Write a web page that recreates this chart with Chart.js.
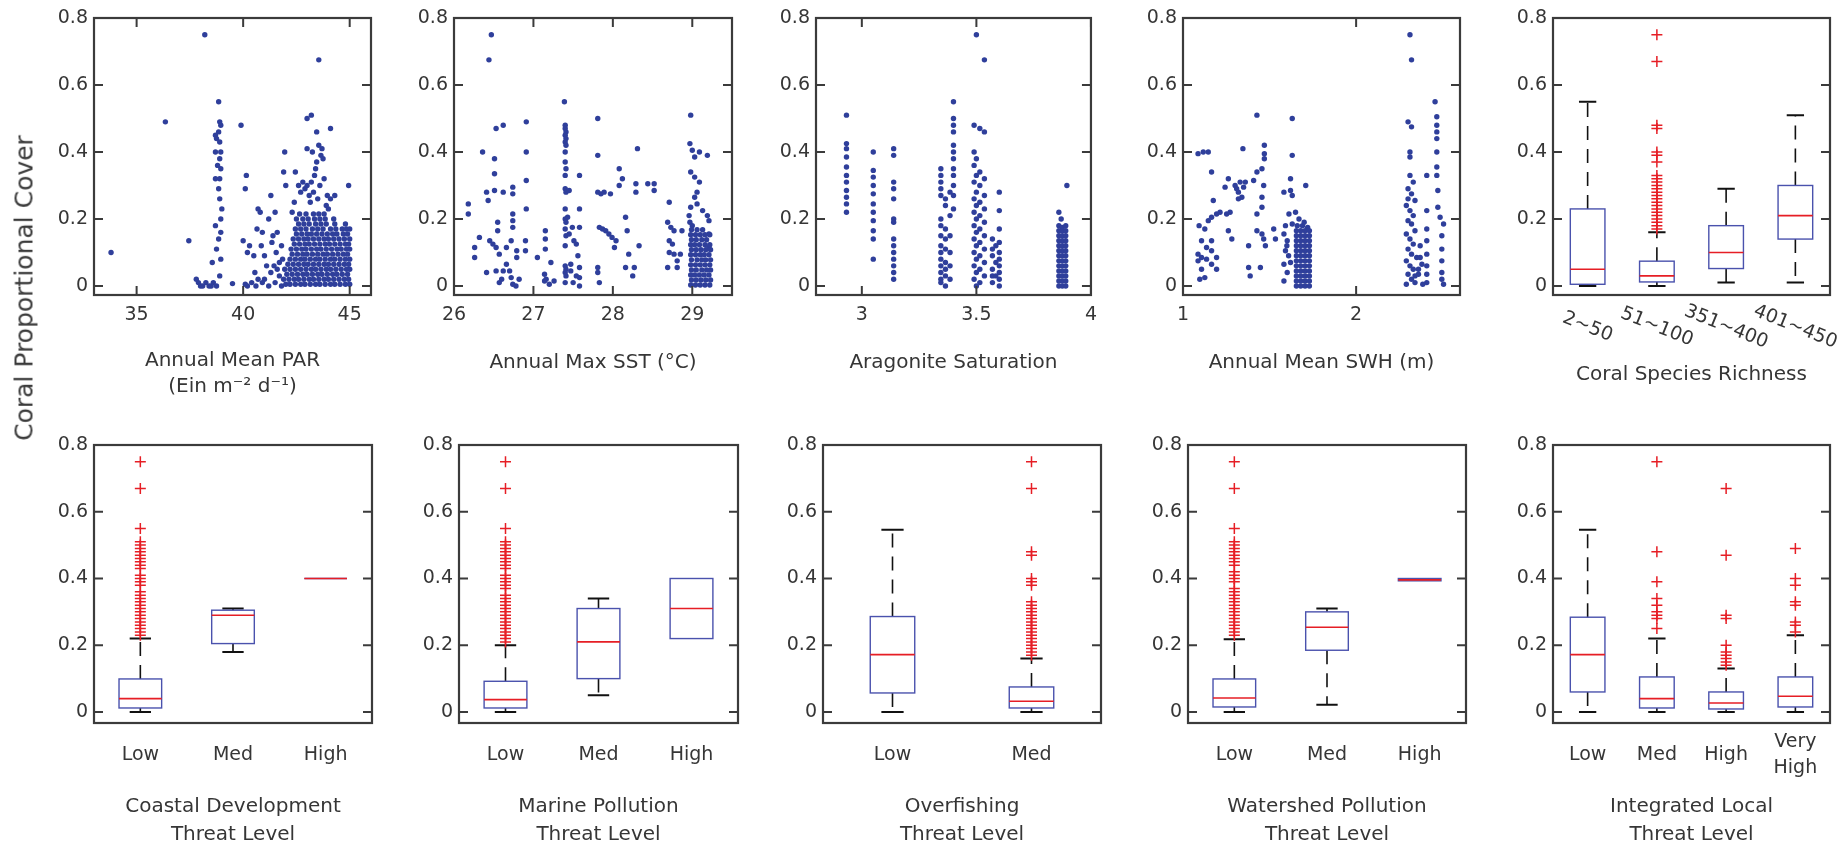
<!DOCTYPE html>
<html>
<head>
<meta charset="utf-8">
<title>Coral proportional cover</title>
<script src="https://cdn.jsdelivr.net/npm/chart.js@4.4.1/dist/chart.umd.min.js"></script>
<style>
  html, body { margin: 0; padding: 0; background: #fff; }
  body { width: 1845px; height: 850px; position: relative; overflow: hidden; font-family: 'DejaVu Sans', sans-serif; }
  .panel { position: absolute; }
  #yTitle { position: absolute; left: 24px; top: 288px; transform: translate(-50%, -50%) rotate(-90deg);
            white-space: nowrap; font-size: 25px; color: #3a3a3a; }
</style>
</head>
<body>
<script>
// ---- data ----
const yTicks = [0, 0.2, 0.4, 0.6, 0.8];

const parTicks = [35, 40, 45];
const parPoints = [
  [33.8,0.10],[36.35,0.49],[37.45,0.135],[38.2,0.75],[43.55,0.675],[39.9,0.48],[38.85,0.55],[44.95,0.30],[43.0,0.50],[43.2,0.51],[44.1,0.47],
  [38.9,0.49],[38.95,0.48],[38.85,0.46],[38.7,0.45],[38.75,0.44],[38.9,0.43],[38.7,0.40],[38.95,0.40],[38.9,0.38],[38.8,0.36],[38.95,0.35],[38.7,0.32],
  [38.9,0.32],[38.85,0.29],[38.9,0.26],[39.0,0.23],[38.95,0.20],[38.7,0.18],[38.95,0.16],[38.85,0.14],[38.75,0.11],[38.95,0.08],[38.55,0.07],[38.9,0.03],
  [37.8,0.02],[37.9,0.01],[38.0,0.0],[38.1,0.0],[38.25,0.01],[38.4,0.0],[38.5,0.0],[38.6,0.01],[38.75,0.0],[39.5,0.007],
  [40.0,0.135],[40.15,0.33],[40.1,0.29],[40.3,0.12],[40.2,0.10],[40.5,0.09],[40.55,0.04],[40.7,0.23],[40.65,0.17],[40.8,0.22],[40.9,0.16],[40.85,0.12],
  [41.0,0.09],[41.1,0.06],[41.2,0.20],[41.3,0.27],[41.35,0.13],[41.5,0.22],[41.4,0.15],[41.6,0.16],[41.55,0.10],[41.7,0.07],[41.9,0.34],[41.95,0.40],
  [42.0,0.30],[41.8,0.12],[41.6,0.05],[41.3,0.04],[41.0,0.02],[40.7,0.02],[40.4,0.01],[40.1,0.005],[40.2,0.0],[40.6,0.0],[40.9,0.01],[41.2,0.0],
  [41.5,0.01],[41.8,0.0],[41.7,0.03],[41.45,0.06],[41.85,0.08],
  [42.45,0.34],[42.6,0.30],[42.8,0.31],[42.9,0.29],[43.0,0.30],[43.1,0.27],[43.2,0.31],[43.3,0.28],[43.15,0.25],[42.7,0.28],[43.35,0.33],[43.4,0.35],
  [43.25,0.40],[43.55,0.42],[43.65,0.39],[43.75,0.38],[43.8,0.32],[43.95,0.27],[44.1,0.26],[43.9,0.24],[43.6,0.30],[43.5,0.26],[43.0,0.41],[43.7,0.41],
  [43.45,0.37],[44.3,0.27],[44.0,0.23],[43.45,0.46],[42.4,0.25],[42.3,0.22],
  [42.0,0.005],[42.2,0.005],[42.45,0.005],[42.7,0.005],[42.9,0.005],[43.15,0.005],[43.4,0.005],[43.6,0.005],[43.85,0.005],[44.1,0.005],[44.3,0.005],[44.55,0.005],[44.8,0.005],[45.0,0.005],
  [41.9,0.02],[42.15,0.02],[42.4,0.02],[42.6,0.02],[42.85,0.02],[43.1,0.02],[43.3,0.02],[43.55,0.02],[43.8,0.02],[44.0,0.02],[44.25,0.02],[44.5,0.02],[44.75,0.02],[44.95,0.02],
  [42.05,0.035],[42.3,0.035],[42.55,0.035],[42.8,0.035],[43.0,0.035],[43.25,0.035],[43.5,0.035],[43.7,0.035],[43.95,0.035],[44.2,0.035],[44.4,0.035],[44.65,0.035],[44.9,0.035],
  [41.95,0.05],[42.2,0.05],[42.45,0.05],[42.7,0.05],[42.95,0.05],[43.2,0.05],[43.4,0.05],[43.65,0.05],[43.9,0.05],[44.1,0.05],[44.35,0.05],[44.6,0.05],[44.85,0.05],[45.0,0.05],
  [42.1,0.065],[42.35,0.065],[42.6,0.065],[42.85,0.065],[43.05,0.065],[43.3,0.065],[43.55,0.065],[43.8,0.065],[44.0,0.065],[44.25,0.065],[44.5,0.065],[44.75,0.065],[44.95,0.065],
  [42.2,0.08],[42.45,0.08],[42.7,0.08],[42.9,0.08],[43.15,0.08],[43.4,0.08],[43.6,0.08],[43.85,0.08],[44.1,0.08],[44.3,0.08],[44.55,0.08],[44.8,0.08],[45.0,0.08],
  [42.3,0.095],[42.55,0.095],[42.8,0.095],[43.0,0.095],[43.25,0.095],[43.5,0.095],[43.75,0.095],[43.95,0.095],[44.2,0.095],[44.45,0.095],[44.7,0.095],[44.9,0.095],
  [42.25,0.11],[42.5,0.11],[42.75,0.11],[42.95,0.11],[43.2,0.11],[43.45,0.11],[43.65,0.11],[43.9,0.11],[44.15,0.11],[44.4,0.11],[44.6,0.11],[44.85,0.11],[45.0,0.11],
  [42.4,0.125],[42.65,0.125],[42.9,0.125],[43.1,0.125],[43.35,0.125],[43.6,0.125],[43.85,0.125],[44.05,0.125],[44.3,0.125],[44.55,0.125],[44.8,0.125],[44.95,0.125],
  [42.35,0.14],[42.6,0.14],[42.85,0.14],[43.05,0.14],[43.3,0.14],[43.55,0.14],[43.8,0.14],[44.0,0.14],[44.25,0.14],[44.5,0.14],[44.75,0.14],[45.0,0.14],
  [42.5,0.155],[42.75,0.155],[43.0,0.155],[43.2,0.155],[43.45,0.155],[43.7,0.155],[43.95,0.155],[44.2,0.155],[44.4,0.155],[44.7,0.155],[44.9,0.155],
  [42.45,0.17],[42.7,0.17],[42.95,0.17],[43.25,0.17],[43.5,0.17],[43.75,0.17],[44.1,0.17],[44.35,0.17],[44.65,0.17],[44.85,0.17],[45.0,0.17],
  [42.6,0.185],[42.85,0.185],[43.1,0.185],[43.4,0.185],[43.65,0.185],[43.9,0.185],[44.3,0.185],[44.8,0.185],
  [42.5,0.20],[42.8,0.20],[43.05,0.20],[43.35,0.20],[43.6,0.20],[43.85,0.20],[44.25,0.20],
  [42.65,0.215],[42.95,0.215],[43.3,0.215],[43.55,0.215],[43.8,0.215]
];

const sstTicks = [26, 27, 28, 29];
const sstPoints = [
  [26.47,0.75],[26.44,0.675],[27.39,0.55],[27.81,0.50],[28.98,0.51],
  [26.36,0.40],[26.41,0.28],[26.51,0.285],[26.62,0.28],[26.53,0.47],[26.62,0.48],[26.51,0.38],[26.51,0.335],[26.91,0.49],[26.91,0.40],[26.91,0.315],
  [26.91,0.23],[26.74,0.295],[26.74,0.275],[26.18,0.245],[26.18,0.215],[26.32,0.145],[26.26,0.115],[26.26,0.085],[26.43,0.255],[26.55,0.19],[26.55,0.165],
  [26.45,0.135],[26.49,0.125],[26.53,0.115],[26.57,0.095],[26.66,0.115],[26.74,0.215],[26.74,0.195],[26.74,0.175],[26.72,0.135],[26.79,0.105],[26.79,0.085],
  [26.41,0.04],[26.53,0.045],[26.62,0.045],[26.7,0.045],[26.57,0.01],[26.74,0.005],[26.82,0.02],[26.9,0.135],[26.9,0.105],[26.66,0.065],[26.72,0.025],
  [26.6,0.02],[26.78,0.0],
  [27.05,0.085],[27.15,0.165],[27.15,0.14],[27.15,0.11],[27.22,0.07],[27.14,0.035],[27.14,0.015],[27.2,0.005],[27.26,0.015],[27.16,0.02],
  [27.4,0.48],[27.4,0.47],[27.41,0.46],[27.4,0.45],[27.41,0.44],[27.4,0.43],[27.41,0.42],[27.4,0.40],[27.4,0.37],[27.41,0.35],[27.4,0.33],[27.4,0.29],
  [27.41,0.28],[27.4,0.23],[27.4,0.20],[27.41,0.19],[27.4,0.17],[27.41,0.15],[27.4,0.12],[27.4,0.06],[27.41,0.05],[27.4,0.04],[27.41,0.03],[27.4,0.01],
  [27.45,0.285],[27.43,0.205],[27.49,0.175],[27.45,0.155],[27.51,0.135],[27.47,0.065],[27.47,0.045],[27.54,0.03],[27.58,0.33],[27.58,0.23],[27.58,0.175],
  [27.56,0.09],[27.58,0.055],[27.58,0.025],[27.58,0.0],[27.54,0.125],[27.5,0.01],
  [27.81,0.39],[27.81,0.28],[27.85,0.275],[27.89,0.28],[27.97,0.275],[27.83,0.175],[27.87,0.17],[27.91,0.165],[27.95,0.155],[27.99,0.145],[28.04,0.135],
  [28.02,0.115],[27.81,0.055],[27.81,0.04],[27.83,0.01],[28.08,0.35],[28.12,0.32],[28.08,0.30],[28.16,0.205],[28.18,0.165],[28.16,0.055],[28.25,0.03],[28.27,0.055],
  [28.31,0.41],[28.29,0.305],[28.29,0.28],[28.33,0.12],[28.44,0.305],[28.52,0.305],[28.52,0.285],[28.2,0.095],
  [28.71,0.25],[28.69,0.19],[28.73,0.175],[28.77,0.165],[28.71,0.135],[28.75,0.125],[28.71,0.10],[28.77,0.095],[28.81,0.075],[28.85,0.095],[28.69,0.055],
  [28.81,0.055],[28.87,0.165],
  [28.97,0.425],[29.0,0.405],[29.03,0.385],[29.09,0.40],[29.19,0.39],[28.98,0.34],[29.03,0.325],[29.09,0.31],[29.06,0.28],[29.03,0.265],[28.98,0.235],
  [29.06,0.245],[29.13,0.225],[29.19,0.21],[29.21,0.195],[28.96,0.21],[29.21,0.155],[29.21,0.115],[28.97,0.19],[29.0,0.18],
  [28.98,0.003],[29.04,0.003],[29.1,0.003],[29.16,0.003],[29.22,0.003],
  [28.99,0.018],[29.05,0.018],[29.11,0.018],[29.17,0.018],[29.23,0.018],
  [28.98,0.033],[29.03,0.033],[29.09,0.033],[29.15,0.033],[29.21,0.033],
  [28.99,0.048],[29.05,0.048],[29.12,0.048],[29.18,0.048],[29.23,0.048],
  [28.98,0.063],[29.04,0.063],[29.1,0.063],[29.16,0.063],[29.22,0.063],
  [28.99,0.078],[29.06,0.078],[29.12,0.078],[29.17,0.078],[29.23,0.078],
  [28.98,0.093],[29.04,0.093],[29.1,0.093],[29.15,0.093],[29.21,0.093],
  [28.99,0.108],[29.05,0.108],[29.11,0.108],[29.17,0.108],[29.23,0.108],
  [28.98,0.123],[29.03,0.123],[29.09,0.123],[29.16,0.123],[29.22,0.123],
  [28.99,0.138],[29.05,0.138],[29.12,0.138],[29.18,0.138],
  [28.98,0.153],[29.04,0.153],[29.1,0.153],[29.16,0.153],[29.22,0.153],
  [28.99,0.168],[29.06,0.168],[29.13,0.168]
];

const aragTicks = [3, 3.5, 4];
const aragPoints = [
  [2.933,0.51],[2.933,0.425],[2.933,0.41],[2.933,0.385],[2.933,0.355],[2.933,0.33],[2.933,0.31],[2.933,0.285],[2.933,0.265],[2.933,0.245],[2.933,0.22],
  [3.05,0.40],[3.05,0.345],[3.05,0.325],[3.05,0.30],[3.05,0.275],[3.05,0.245],[3.05,0.22],[3.05,0.195],[3.05,0.165],[3.05,0.14],[3.05,0.08],
  [3.139,0.41],[3.139,0.39],[3.139,0.31],[3.139,0.29],[3.139,0.26],[3.139,0.20],[3.139,0.19],[3.139,0.14],[3.139,0.12],[3.139,0.10],[3.139,0.08],
  [3.139,0.06],[3.139,0.04],[3.139,0.02],
  [3.345,0.35],[3.345,0.33],[3.345,0.31],[3.345,0.29],[3.345,0.27],[3.345,0.20],[3.345,0.18],[3.345,0.15],[3.345,0.12],[3.345,0.10],[3.345,0.08],
  [3.345,0.06],[3.345,0.04],[3.345,0.02],[3.345,0.01],
  [3.365,0.26],[3.365,0.24],[3.365,0.17],[3.365,0.14],[3.365,0.11],[3.365,0.07],[3.365,0.05],[3.365,0.03],[3.365,0.0],
  [3.385,0.28],[3.385,0.21],[3.385,0.15],[3.385,0.10],[3.385,0.06],[3.385,0.02],
  [3.40,0.55],[3.40,0.50],[3.40,0.48],[3.40,0.46],[3.40,0.42],[3.40,0.40],[3.40,0.38],[3.40,0.35],[3.40,0.33],[3.40,0.30],[3.40,0.27],[3.40,0.23],
  [3.49,0.48],[3.49,0.40],[3.49,0.36],[3.49,0.31],[3.49,0.26],[3.49,0.22],[3.49,0.18],[3.49,0.14],[3.49,0.10],[3.49,0.06],[3.49,0.02],
  [3.50,0.75],[3.50,0.38],[3.50,0.33],[3.50,0.28],[3.50,0.24],[3.50,0.20],[3.50,0.16],[3.50,0.12],[3.50,0.08],[3.50,0.04],[3.50,0.0],
  [3.515,0.47],[3.515,0.34],[3.515,0.30],[3.515,0.25],[3.515,0.21],[3.515,0.17],[3.515,0.13],[3.515,0.09],[3.515,0.05],[3.515,0.01],
  [3.535,0.675],[3.535,0.46],[3.535,0.32],[3.535,0.27],[3.535,0.23],[3.535,0.19],[3.535,0.15],[3.535,0.11],[3.535,0.07],[3.535,0.03],
  [3.57,0.14],[3.57,0.11],[3.57,0.09],[3.57,0.05],[3.57,0.03],[3.57,0.01],
  [3.6,0.28],[3.6,0.225],[3.6,0.17],[3.6,0.13],[3.6,0.10],[3.6,0.08],[3.6,0.06],[3.6,0.04],[3.6,0.02],[3.6,0.0],
  [3.585,0.12],[3.585,0.07],[3.585,0.03],
  [3.895,0.30],[3.87,0.20],[3.86,0.22],
  [3.86,0.0],[3.875,0.0],[3.89,0.0],[3.86,0.015],[3.875,0.015],[3.89,0.015],[3.86,0.03],[3.875,0.03],[3.89,0.03],
  [3.86,0.045],[3.875,0.045],[3.89,0.045],[3.86,0.06],[3.875,0.06],[3.89,0.06],[3.86,0.075],[3.875,0.075],[3.89,0.075],
  [3.86,0.09],[3.875,0.09],[3.89,0.09],[3.86,0.105],[3.875,0.105],[3.89,0.105],[3.86,0.12],[3.875,0.12],[3.89,0.12],
  [3.86,0.135],[3.875,0.135],[3.89,0.135],[3.86,0.15],[3.875,0.15],[3.89,0.15],[3.86,0.165],[3.875,0.165],[3.89,0.165],
  [3.86,0.18],[3.875,0.175],[3.89,0.18]
];

const swhTicks = [1, 2];
const swhPoints = [
  [1.087,0.395],[1.117,0.40],[1.146,0.40],[1.165,0.34],[1.175,0.255],[1.093,0.18],[1.126,0.17],[1.146,0.195],[1.165,0.205],[1.194,0.215],[1.214,0.22],
  [1.107,0.135],[1.136,0.115],[1.165,0.135],[1.087,0.095],[1.107,0.085],[1.087,0.075],[1.136,0.08],[1.165,0.105],[1.165,0.065],[1.194,0.085],[1.194,0.05],
  [1.107,0.05],[1.097,0.02],[1.126,0.025],
  [1.243,0.295],[1.262,0.32],[1.252,0.215],[1.272,0.22],[1.262,0.165],[1.282,0.14],[1.301,0.30],[1.32,0.28],[1.34,0.265],[1.35,0.295],[1.33,0.31],
  [1.36,0.31],[1.346,0.41],[1.427,0.51],[1.408,0.315],[1.427,0.34],[1.456,0.35],[1.47,0.42],[1.47,0.395],[1.47,0.38],[1.466,0.30],[1.456,0.265],
  [1.456,0.235],[1.427,0.215],[1.379,0.12],[1.427,0.165],[1.456,0.155],[1.466,0.14],[1.476,0.12],[1.379,0.055],[1.388,0.03],[1.447,0.055],[1.524,0.17],
  [1.534,0.14],[1.31,0.29],[1.32,0.26],
  [1.631,0.50],[1.631,0.39],[1.621,0.32],[1.583,0.28],[1.621,0.285],[1.631,0.27],[1.709,0.30],[1.612,0.215],[1.592,0.18],[1.631,0.185],[1.583,0.155],
  [1.602,0.135],[1.592,0.105],[1.583,0.065],[1.602,0.04],[1.583,0.015],[1.621,0.07],[1.61,0.09],[1.6,0.12],
  [1.66,0.18],[1.69,0.18],[1.72,0.175],[1.67,0.20],[1.70,0.19],[1.65,0.22],
  [1.655,0.0],[1.68,0.0],[1.705,0.0],[1.73,0.0],[1.655,0.015],[1.68,0.015],[1.705,0.015],[1.73,0.015],
  [1.655,0.03],[1.68,0.03],[1.705,0.03],[1.73,0.03],[1.655,0.045],[1.68,0.045],[1.705,0.045],[1.73,0.045],
  [1.655,0.06],[1.68,0.06],[1.705,0.06],[1.73,0.06],[1.655,0.075],[1.68,0.075],[1.705,0.075],[1.73,0.075],
  [1.655,0.09],[1.68,0.09],[1.705,0.09],[1.73,0.09],[1.655,0.105],[1.68,0.105],[1.705,0.105],[1.73,0.105],
  [1.655,0.12],[1.68,0.12],[1.705,0.12],[1.73,0.12],[1.655,0.135],[1.68,0.135],[1.705,0.135],[1.73,0.135],
  [1.655,0.15],[1.68,0.15],[1.705,0.15],[1.73,0.15],[1.655,0.165],[1.68,0.165],[1.705,0.165],[1.73,0.165],
  [2.311,0.75],[2.32,0.675],[2.30,0.49],[2.32,0.475],[2.311,0.40],[2.311,0.385],[2.456,0.55],[2.466,0.505],[2.466,0.48],[2.466,0.46],[2.466,0.44],
  [2.466,0.40],[2.466,0.355],[2.466,0.33],[2.408,0.33],[2.472,0.285],[2.472,0.235],[2.485,0.205],[2.505,0.185],[2.495,0.15],[2.495,0.11],[2.495,0.075],
  [2.495,0.04],[2.495,0.02],[2.505,0.005],[2.408,0.225],[2.408,0.17],[2.408,0.135],[2.408,0.095],[2.408,0.06],[2.408,0.035],[2.408,0.01],
  [2.311,0.33],[2.33,0.31],[2.30,0.29],[2.32,0.275],[2.34,0.255],[2.29,0.24],[2.311,0.225],[2.33,0.21],[2.30,0.195],[2.32,0.185],[2.34,0.165],
  [2.29,0.155],[2.311,0.14],[2.33,0.125],[2.30,0.11],[2.32,0.095],[2.35,0.085],[2.29,0.075],[2.311,0.06],[2.33,0.05],[2.30,0.035],[2.32,0.02],
  [2.34,0.01],[2.29,0.005],[2.37,0.085],[2.38,0.065],[2.36,0.035],[2.385,0.005],[2.37,0.12],[2.36,0.05],[2.34,0.03],[2.30,0.26]
];

// box rows: [lower whisker, q1, median, q3, upper whisker]; outliers: [group, value]
const richnessLabels = ['2~50', '51~100', '351~400', '401~450'];
const richnessBoxes = [[0, 0.005, 0.05, 0.23, 0.55], [0, 0.012, 0.03, 0.074, 0.16], [0.01, 0.052, 0.10, 0.18, 0.29], [0.01, 0.14, 0.21, 0.30, 0.51]];
const richnessOutliers = [[2,0.17],[2,0.18],[2,0.19],[2,0.20],[2,0.21],[2,0.22],[2,0.23],[2,0.24],[2,0.25],[2,0.26],[2,0.27],[2,0.28],[2,0.29],
  [2,0.30],[2,0.31],[2,0.32],[2,0.33],[2,0.37],[2,0.39],[2,0.40],[2,0.47],[2,0.48],[2,0.67],[2,0.75]];

const threatLabels = ['Low', 'Med', 'High'];

const coastalBoxes = [[0, 0.012, 0.04, 0.099, 0.22], [0.18, 0.205, 0.29, 0.305, 0.31], [0.40, 0.40, 0.40, 0.40, 0.40]];
const coastalOutliers = [[1,0.23],[1,0.24],[1,0.25],[1,0.26],[1,0.27],[1,0.28],[1,0.29],[1,0.30],[1,0.31],[1,0.32],[1,0.33],[1,0.34],[1,0.35],
  [1,0.36],[1,0.38],[1,0.39],[1,0.40],[1,0.41],[1,0.43],[1,0.44],[1,0.45],[1,0.46],[1,0.47],[1,0.48],[1,0.49],[1,0.50],[1,0.51],[1,0.55],[1,0.67],[1,0.75]];

const marineBoxes = [[0, 0.012, 0.037, 0.092, 0.20], [0.05, 0.10, 0.21, 0.31, 0.34], [0.22, 0.22, 0.31, 0.40, 0.40]];
const marineOutliers = [[1,0.21],[1,0.22],[1,0.23],[1,0.24],[1,0.25],[1,0.26],[1,0.27],[1,0.28],[1,0.29],[1,0.30],[1,0.31],[1,0.32],[1,0.33],
  [1,0.34],[1,0.35],[1,0.37],[1,0.38],[1,0.39],[1,0.40],[1,0.41],[1,0.43],[1,0.44],[1,0.45],[1,0.46],[1,0.47],[1,0.48],[1,0.49],[1,0.50],[1,0.51],
  [1,0.55],[1,0.67],[1,0.75]];

const fishingLabels = ['Low', 'Med'];
const fishingBoxes = [[0, 0.057, 0.172, 0.286, 0.546], [0, 0.012, 0.032, 0.075, 0.16]];
const fishingOutliers = [[2,0.17],[2,0.18],[2,0.19],[2,0.20],[2,0.21],[2,0.22],[2,0.23],[2,0.24],[2,0.25],[2,0.26],[2,0.27],[2,0.28],[2,0.29],
  [2,0.30],[2,0.31],[2,0.32],[2,0.33],[2,0.38],[2,0.39],[2,0.40],[2,0.47],[2,0.48],[2,0.67],[2,0.75]];

const watershedBoxes = [[0, 0.015, 0.042, 0.099, 0.218], [0.022, 0.185, 0.254, 0.30, 0.31], [0.393, 0.393, 0.396, 0.40, 0.40]];
const watershedOutliers = [[1,0.23],[1,0.24],[1,0.25],[1,0.26],[1,0.27],[1,0.28],[1,0.29],[1,0.30],[1,0.31],[1,0.32],[1,0.33],[1,0.34],[1,0.35],
  [1,0.36],[1,0.37],[1,0.39],[1,0.40],[1,0.41],[1,0.42],[1,0.44],[1,0.45],[1,0.46],[1,0.47],[1,0.48],[1,0.49],[1,0.50],[1,0.51],[1,0.55],[1,0.67],[1,0.75]];

const integratedLabels = ['Low', 'Med', 'High', ['Very', 'High']];
const integratedBoxes = [[0, 0.06, 0.172, 0.284, 0.546], [0, 0.012, 0.04, 0.105, 0.22], [0, 0.009, 0.027, 0.06, 0.13], [0, 0.015, 0.047, 0.105, 0.23]];
const integratedOutliers = [[2,0.25],[2,0.28],[2,0.29],[2,0.30],[2,0.32],[2,0.34],[2,0.39],[2,0.48],[2,0.75],
  [3,0.14],[3,0.15],[3,0.16],[3,0.17],[3,0.18],[3,0.20],[3,0.28],[3,0.29],[3,0.47],[3,0.67],
  [4,0.24],[4,0.26],[4,0.27],[4,0.32],[4,0.33],[4,0.38],[4,0.40],[4,0.49]];

// ---- style & layout ----
const FONT = "'DejaVu Sans', sans-serif";
const TEXT = '#363636';
const AXIS = '#3b3b3b';
const DOT = '#2f3f9b';
const BOX = '#4a52ad';
const RED = '#e61e25';
const WHISKER = '#111';
const TICK = 9;
const YW = 60, PR = 14;
const rows = [
  { top: 0, height: 400, plotTop: 18, plotBottom: 295, yMin: -0.027, tickPad: 9 },
  { top: 420, height: 430, plotTop: 445, plotBottom: 723, yMin: -0.033, tickPad: 21 }
];

const panels = [
  { row: 0, l: 94, r: 371, xMin: 33, xMax: 46, xTicks: parTicks, points: parPoints,
    title: ['Annual Mean PAR', '(Ein m\u207B\u00B2 d\u207B\u00B9)'], titleLH: 1.3, titlePad: 0 },
  { row: 0, l: 454, r: 732, xMin: 26, xMax: 29.5, xTicks: sstTicks, points: sstPoints, title: 'Annual Max SST (\u00B0C)', titleLH: 1.3, titlePad: 24 },
  { row: 0, l: 816, r: 1092, xMin: 2.8, xMax: 4, xTicks: aragTicks, points: aragPoints, title: 'Aragonite Saturation', titleLH: 1.3, titlePad: 24 },
  { row: 0, l: 1183, r: 1460, xMin: 1, xMax: 2.6, xTicks: swhTicks, points: swhPoints, title: 'Annual Mean SWH (m)', titleLH: 1.3, titlePad: 24 },
  { row: 0, l: 1553, r: 1830, labels: richnessLabels, boxes: richnessBoxes, outliers: richnessOutliers, boxWidth: 0.5, slant: true,
    title: 'Coral Species Richness', titleLH: 1.3, titlePad: 12 },
  { row: 1, l: 94, r: 372, labels: threatLabels, boxes: coastalBoxes, outliers: coastalOutliers, boxWidth: 0.46,
    title: ['Coastal Development', 'Threat Level'], titleLH: 1.4, titlePad: 1 },
  { row: 1, l: 459, r: 738, labels: threatLabels, boxes: marineBoxes, outliers: marineOutliers, boxWidth: 0.46,
    title: ['Marine Pollution', 'Threat Level'], titleLH: 1.4, titlePad: 1 },
  { row: 1, l: 823, r: 1101, labels: fishingLabels, boxes: fishingBoxes, outliers: fishingOutliers, boxWidth: 0.32,
    title: ['Overfishing', 'Threat Level'], titleLH: 1.4, titlePad: 1 },
  { row: 1, l: 1188, r: 1466, labels: threatLabels, boxes: watershedBoxes, outliers: watershedOutliers, boxWidth: 0.46,
    title: ['Watershed Pollution', 'Threat Level'], titleLH: 1.4, titlePad: 1 },
  { row: 1, l: 1553, r: 1830, labels: integratedLabels, boxes: integratedBoxes, outliers: integratedOutliers, boxWidth: 0.5, centerTicks: true,
    title: ['Integrated Local', 'Threat Level'], titleLH: 1.4, titlePad: 1 }
];

// ---- plugins ----
function framePlugin(withXTicks) {
  return {
    id: 'frame',
    afterDatasetsDraw(chart) {
      const { ctx, chartArea: a, scales: { x, y } } = chart;
      ctx.save();
      ctx.strokeStyle = AXIS;
      ctx.lineWidth = 2;
      ctx.beginPath();
      y.ticks.forEach(t => {
        const py = y.getPixelForValue(t.value);
        ctx.moveTo(a.left, py); ctx.lineTo(a.left + TICK, py);
        ctx.moveTo(a.right, py); ctx.lineTo(a.right - TICK, py);
      });
      if (withXTicks) {
        x.ticks.forEach(t => {
          const px = x.getPixelForValue(t.value);
          ctx.moveTo(px, a.bottom); ctx.lineTo(px, a.bottom - TICK);
          ctx.moveTo(px, a.top); ctx.lineTo(px, a.top + TICK);
        });
      }
      ctx.stroke();
      ctx.lineWidth = 2.2;
      ctx.strokeRect(a.left, a.top, a.right - a.left, a.bottom - a.top);
      ctx.restore();
    }
  };
}

function boxPlugin(boxes, width) {
  return {
    id: 'boxes',
    beforeDatasetsDraw(chart) {
      const { ctx, scales: { x, y } } = chart;
      ctx.save();
      boxes.forEach((b, i) => {
        const [lo, q1, med, q3, hi] = b;
        const g = i + 1;
        const xc = x.getPixelForValue(g);
        const x0 = x.getPixelForValue(g - width / 2), x1 = x.getPixelForValue(g + width / 2);
        const c0 = x.getPixelForValue(g - width / 4), c1 = x.getPixelForValue(g + width / 4);
        const pTop = y.getPixelForValue(q3), pBot = y.getPixelForValue(q1);
        // dashed whiskers
        ctx.strokeStyle = WHISKER;
        ctx.lineWidth = 1.6;
        ctx.setLineDash([14, 9]);
        ctx.beginPath();
        if (hi > q3) { ctx.moveTo(xc, pTop); ctx.lineTo(xc, y.getPixelForValue(hi)); }
        if (lo < q1) { ctx.moveTo(xc, pBot); ctx.lineTo(xc, y.getPixelForValue(lo)); }
        ctx.stroke();
        // caps
        ctx.setLineDash([]);
        ctx.lineWidth = 2;
        ctx.beginPath();
        if (hi > q3) { const p = y.getPixelForValue(hi); ctx.moveTo(c0, p); ctx.lineTo(c1, p); }
        if (lo < q1) { const p = y.getPixelForValue(lo); ctx.moveTo(c0, p); ctx.lineTo(c1, p); }
        ctx.stroke();
        // box
        ctx.strokeStyle = BOX;
        ctx.lineWidth = 1.4;
        ctx.strokeRect(x0, pTop, x1 - x0, pBot - pTop);
        // median
        ctx.strokeStyle = RED;
        ctx.lineWidth = 1.6;
        ctx.beginPath();
        const pm = y.getPixelForValue(med);
        ctx.moveTo(x0, pm); ctx.lineTo(x1, pm);
        ctx.stroke();
      });
      ctx.restore();
    }
  };
}

function slantPlugin(labels) {
  return {
    id: 'slant',
    afterDraw(chart) {
      const { ctx, chartArea: a, scales: { x } } = chart;
      ctx.save();
      ctx.font = '19px ' + FONT;
      ctx.fillStyle = TEXT;
      ctx.textAlign = 'center';
      ctx.textBaseline = 'middle';
      labels.forEach((t, i) => {
        ctx.save();
        ctx.translate(x.getPixelForValue(i + 1), a.bottom + 32);
        ctx.rotate(22 * Math.PI / 180);
        ctx.fillText(t, 0, 0);
        ctx.restore();
      });
      ctx.restore();
    }
  };
}

// ---- build ----
function buildPanel(p) {
  const row = rows[p.row];
  const width = (p.r - p.l) + YW + PR;
  const height = row.height;
  const wrap = document.createElement('div');
  wrap.className = 'panel';
  wrap.style.left = (p.l - YW) + 'px';
  wrap.style.top = row.top + 'px';
  const canvas = document.createElement('canvas');
  canvas.width = width;
  canvas.height = height;
  canvas.style.width = width + 'px';
  canvas.style.height = height + 'px';
  wrap.appendChild(canvas);
  document.body.appendChild(wrap);

  const isBox = !!p.boxes;
  const datasets = isBox
    ? [{ data: p.outliers.map(([g, v]) => ({ x: g, y: v })), pointStyle: 'cross', pointRadius: 5.5,
         borderColor: RED, backgroundColor: RED, borderWidth: 1.5 }]
    : [{ data: p.points.map(([x, y]) => ({ x, y })), pointRadius: 2.7, backgroundColor: DOT, borderWidth: 0 }];
  const xTicks = isBox ? p.labels.map((_, i) => i + 1) : p.xTicks;
  const xMin = isBox ? 0.5 : p.xMin;
  const xMax = isBox ? p.labels.length + 0.5 : p.xMax;

  const plugins = [framePlugin(!isBox)];
  if (isBox) plugins.unshift(boxPlugin(p.boxes, p.boxWidth));
  if (p.slant) plugins.push(slantPlugin(p.labels));

  new Chart(canvas, {
    type: 'scatter',
    data: { datasets },
    options: {
      responsive: false,
      animation: false,
      events: [],
      layout: { autoPadding: false, padding: { left: 0, right: PR, top: row.plotTop - row.top, bottom: 0 } },
      plugins: { legend: { display: false }, tooltip: { enabled: false } },
      scales: {
        x: {
          type: 'linear', min: xMin, max: xMax,
          grid: { display: false, drawTicks: false }, border: { display: false },
          afterBuildTicks: s => { s.ticks = xTicks.map(v => ({ value: v })); },
          afterFit: s => { s.height = row.top + row.height - row.plotBottom; },
          ticks: {
            display: !p.slant,
            color: TEXT,
            font: { family: FONT, size: 19, lineHeight: p.centerTicks ? 1.35 : 1.2 },
            padding: p.centerTicks ? 19 : row.tickPad,
            crossAlign: p.centerTicks ? 'center' : 'near',
            maxRotation: 0, minRotation: 0,
            callback: v => isBox ? p.labels[v - 1] : String(v)
          },
          title: {
            display: true, text: p.title, color: TEXT,
            font: { family: FONT, size: 20, lineHeight: p.titleLH },
            padding: { top: 0, bottom: p.titlePad }
          }
        },
        y: {
          type: 'linear', min: row.yMin, max: 0.8,
          grid: { display: false, drawTicks: false }, border: { display: false },
          afterBuildTicks: s => { s.ticks = yTicks.map(v => ({ value: v })); },
          afterFit: s => { s.width = YW; },
          ticks: { color: TEXT, padding: 6, font: { family: FONT, size: 19 }, callback: v => String(v) }
        }
      }
    },
    plugins
  });
}

panels.forEach(buildPanel);
</script>
<div id="yTitle">Coral Proportional Cover</div>
</body>
</html>
